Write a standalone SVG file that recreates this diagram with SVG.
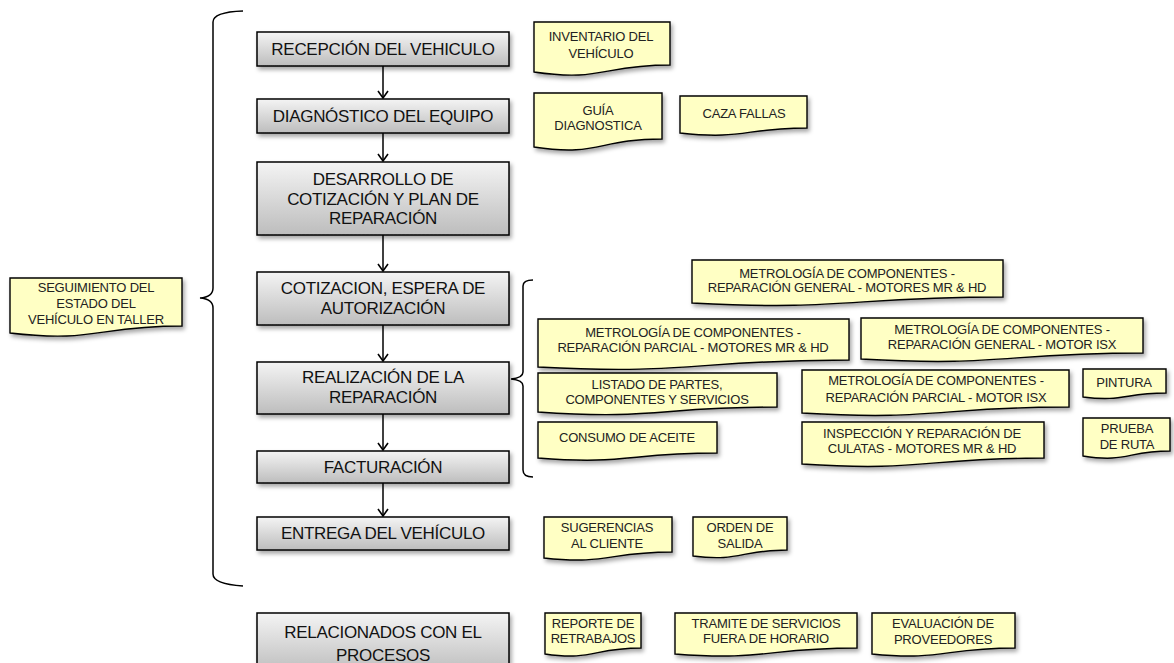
<svg xmlns="http://www.w3.org/2000/svg" width="1174" height="663" viewBox="0 0 1174 663">
<defs>
<linearGradient id="gray" x1="0" y1="0" x2="0" y2="1">
<stop offset="0" stop-color="#f4f4f4"/>
<stop offset="1" stop-color="#bdbdbd"/>
</linearGradient>
<filter id="sh" x="-10%" y="-20%" width="130%" height="160%">
<feDropShadow dx="2" dy="3" stdDeviation="2" flood-color="#000" flood-opacity="0.35"/>
</filter>
<marker id="arr" viewBox="0 0 12 12" refX="11" refY="6" markerWidth="12" markerHeight="12" markerUnits="userSpaceOnUse" orient="auto">
<path d="M4,1 L11,6 L4,11" fill="none" stroke="#000" stroke-width="1.6"/>
</marker>
</defs>
<style>
.proc rect{fill:url(#gray);stroke:#000;stroke-width:1.5;filter:url(#sh)}
.proc text{font-family:"Liberation Sans",Arial,sans-serif;font-size:17px;fill:#111;text-anchor:middle;letter-spacing:-0.3px}
.doc path{fill:#ffffc4;stroke:#000;stroke-width:1.4;filter:url(#sh)}
.doc text{font-family:"Liberation Sans",Arial,sans-serif;font-size:13px;fill:#222;text-anchor:middle;letter-spacing:-0.2px}
.conn line{stroke:#000;stroke-width:1.5;marker-end:url(#arr)}
.brk{fill:none;stroke:#000;stroke-width:1.5}
</style>
<rect width="1174" height="663" fill="#fff"/>

<g id="brackets">
<path class="brk" d="M243,11 Q213,12 213,22 L213,288 Q213,297 200,298 Q213,299 213,308 L213,574 Q213,584 243,586"/>
<path class="brk" d="M533,280 Q523,280 523,286 L523,372 Q523,378 511,379 Q523,380 523,386 L523,470 Q523,477 533,477"/>
</g>

<g id="connectors" class="conn">
<line x1="383" y1="66" x2="383" y2="98"/>
<line x1="383" y1="133" x2="383" y2="161"/>
<line x1="383" y1="235" x2="383" y2="271"/>
<line x1="383" y1="325" x2="383" y2="361"/>
<line x1="383" y1="414" x2="383" y2="450"/>
<line x1="383" y1="483" x2="383" y2="516"/>
</g>

<g id="n-recepcion" class="proc"><rect x="257" y="32" width="252" height="34"/><text x="383" y="55">RECEPCIÓN DEL VEHICULO</text></g>
<g id="n-diagnostico" class="proc"><rect x="257" y="99" width="252" height="34"/><text x="383" y="122">DIAGNÓSTICO DEL EQUIPO</text></g>
<g id="n-desarrollo" class="proc"><rect x="257" y="162" width="252" height="73"/><text x="383" y="185">DESARROLLO DE</text><text x="383" y="205">COTIZACIÓN Y PLAN DE</text><text x="383" y="224">REPARACIÓN</text></g>
<g id="n-cotizacion" class="proc"><rect x="257" y="272" width="252" height="53"/><text x="383" y="294">COTIZACION, ESPERA DE</text><text x="383" y="314">AUTORIZACIÓN</text></g>
<g id="n-realizacion" class="proc"><rect x="257" y="362" width="252" height="52"/><text x="383" y="383">REALIZACIÓN DE LA</text><text x="383" y="403">REPARACIÓN</text></g>
<g id="n-facturacion" class="proc"><rect x="257" y="451" width="252" height="32"/><text x="383" y="473">FACTURACIÓN</text></g>
<g id="n-entrega" class="proc"><rect x="257" y="517" width="252" height="33"/><text x="383" y="539">ENTREGA DEL VEHÍCULO</text></g>
<g id="n-relacionados" class="proc"><rect x="257" y="613" width="252" height="60"/><text x="383" y="638">RELACIONADOS CON EL</text><text x="383" y="661">PROCESOS</text></g>

<g id="d-seguimiento" class="doc"><path d="M10,278 H182 V326 C96,326 96,343 10,333 Z"/><text x="96" y="292">SEGUIMIENTO  DEL</text><text x="96" y="308">ESTADO DEL</text><text x="96" y="324">VEHÍCULO EN TALLER</text></g>
<g id="d-inventario" class="doc"><path d="M534,22 H670 V65 C602,65 602,82 534,72 Z"/><text x="601" y="41">INVENTARIO  DEL</text><text x="601" y="58">VEHÍCULO</text></g>
<g id="d-guia" class="doc"><path d="M534,93 H662 V139 C598,139 598,157 534,147 Z"/><text x="598" y="115">GUÍA</text><text x="598" y="130">DIAGNOSTICA</text></g>
<g id="d-caza" class="doc"><path d="M680,96 H807 V128 C744,128 744,140 680,133 Z"/><text x="744" y="118">CAZA FALLAS</text></g>
<g id="d-metro-gen-mrhd" class="doc"><path d="M692,260 H1003 V297 C847,297 847,311 692,303 Z"/><text x="847" y="278">METROLOGÍA DE COMPONENTES -</text><text x="847" y="292">REPARACIÓN GENERAL - MOTORES MR &amp; HD</text></g>
<g id="d-metro-par-mrhd" class="doc"><path d="M538,319 H849 V360 C693,360 693,375 538,367 Z"/><text x="693" y="337">METROLOGÍA DE COMPONENTES -</text><text x="693" y="352">REPARACIÓN PARCIAL - MOTORES MR &amp; HD</text></g>
<g id="d-metro-gen-isx" class="doc"><path d="M861,318 H1143 V353 C1002,353 1002,367 861,359 Z"/><text x="1002" y="334">METROLOGÍA DE COMPONENTES -</text><text x="1002" y="349">REPARACIÓN GENERAL - MOTOR ISX</text></g>
<g id="d-listado" class="doc"><path d="M538,373 H777 V407 C657,407 657,420 538,412 Z"/><text x="657" y="389">LISTADO DE PARTES,</text><text x="657" y="404">COMPONENTES Y SERVICIOS</text></g>
<g id="d-metro-par-isx" class="doc"><path d="M802,370 H1069 V407 C936,407 936,421 802,413 Z"/><text x="936" y="385">METROLOGÍA DE COMPONENTES -</text><text x="936" y="402">REPARACIÓN PARCIAL - MOTOR ISX</text></g>
<g id="d-pintura" class="doc"><path d="M1083,369 H1166 V393 C1124,393 1124,402 1083,397 Z"/><text x="1124" y="387">PINTURA</text></g>
<g id="d-consumo" class="doc"><path d="M538,422 H717 V453 C627,453 627,465 538,458 Z"/><text x="627" y="442">CONSUMO DE ACEITE</text></g>
<g id="d-inspeccion" class="doc"><path d="M802,422 H1044 V458 C923,458 923,472 802,464 Z"/><text x="922" y="438">INSPECCIÓN Y REPARACIÓN DE</text><text x="922" y="453">CULATAS - MOTORES MR &amp; HD</text></g>
<g id="d-prueba" class="doc"><path d="M1083,418 H1170 V451 C1127,451 1127,463 1083,456 Z"/><text x="1127" y="433">PRUEBA</text><text x="1127" y="449">DE RUTA</text></g>
<g id="d-sugerencias" class="doc"><path d="M544,517 H672 V552 C608,552 608,565 544,558 Z"/><text x="607" y="532">SUGERENCIAS</text><text x="607" y="548">AL CLIENTE</text></g>
<g id="d-orden" class="doc"><path d="M693,517 H787 V550 C740,550 740,562 693,556 Z"/><text x="740" y="532">ORDEN DE</text><text x="740" y="548">SALIDA</text></g>
<g id="d-reporte" class="doc"><path d="M545,613 H641 V648 C593,648 593,661 545,654 Z"/><text x="593" y="628">REPORTE DE</text><text x="593" y="643">RETRABAJOS</text></g>
<g id="d-tramite" class="doc"><path d="M675,613 H857 V648 C766,648 766,661 675,654 Z"/><text x="766" y="628">TRAMITE  DE SERVICIOS</text><text x="766" y="643">FUERA DE HORARIO</text></g>
<g id="d-evaluacion" class="doc"><path d="M872,613 H1015 V648 C943,648 943,661 872,654 Z"/><text x="943" y="628">EVALUACIÓN  DE</text><text x="943" y="644">PROVEEDORES</text></g>
</svg>
